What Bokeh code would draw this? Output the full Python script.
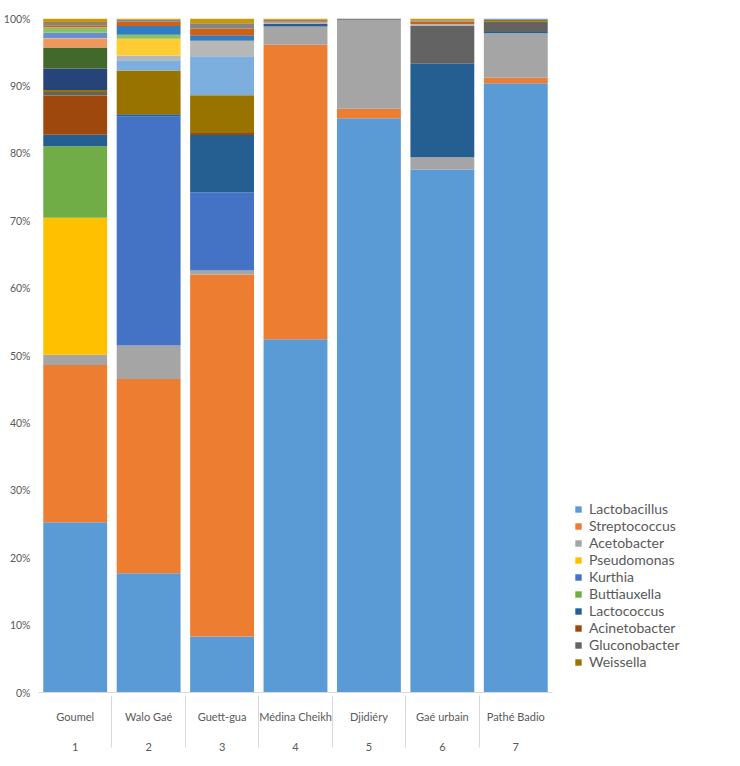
from bokeh.plotting import figure
from bokeh.models import (ColumnDataSource, FactorRange, FixedTicker, NumeralTickFormatter,
                          Legend, LegendItem)
from bokeh.embed import file_html
from bokeh.resources import INLINE

sites = ["Goumel", "Walo Gaé", "Guett-gua", "Médina Cheikh", "Djidiéry", "Gaé urbain", "Pathé Badio"]
site_numbers = ["1", "2", "3", "4", "5", "6", "7"]

# Relative abundance (%) per site
Lactobacillus = [25.2, 17.7, 8.3, 52.4, 85.2, 77.6, 90.4]
Streptococcus = [23.3, 28.8, 53.7, 43.7, 1.4, 0.0, 0.8]
Acetobacter = [1.5, 5.0, 0.6, 2.7, 13.2, 1.8, 6.6]
Pseudomonas = [20.3, 0, 0, 0, 0, 0, 0]
Kurthia = [0, 34.0, 11.6, 0, 0, 0, 0]
Buttiauxella = [10.6, 0, 0, 0, 0, 0, 0]
Lactococcus = [1.7, 0.3, 8.5, 0.4, 0, 13.9, 0.2]
Acinetobacter = [5.8, 0, 0.3, 0, 0, 0, 0]
Gluconobacter = [0.5, 0, 0, 0, 0.2, 5.6, 1.5]
Weissella = [0.3, 6.5, 5.6, 0, 0, 0, 0.3]
# minor genera (not shown in the legend)
other_11 = [3.2, 0, 0, 0, 0, 0, 0]
other_12 = [3.1, 0, 0, 0, 0, 0, 0]
other_13 = [0, 1.5, 5.8, 0, 0, 0, 0]
other_14 = [1.3, 0, 0, 0, 0, 0, 0]
other_15 = [0.1, 0.7, 2.3, 0.2, 0, 0.3, 0]
other_16 = [0, 2.5, 0, 0, 0, 0, 0]
other_17 = [0.8, 0, 0, 0, 0, 0, 0.2]
other_18 = [0.8, 0.6, 0, 0, 0, 0, 0]
other_19 = [0, 1.3, 0.8, 0, 0, 0, 0]
other_20 = [0.3, 0.6, 1.0, 0.2, 0, 0.35, 0]
other_21 = [0.5, 0.3, 0.8, 0.2, 0, 0.2, 0]
other_22 = [0.5, 0.2, 0.7, 0.2, 0, 0.25, 0]

legend_names = ["Lactobacillus", "Streptococcus", "Acetobacter", "Pseudomonas", "Kurthia",
                "Buttiauxella", "Lactococcus", "Acinetobacter", "Gluconobacter", "Weissella"]
series = [Lactobacillus, Streptococcus, Acetobacter, Pseudomonas, Kurthia, Buttiauxella,
          Lactococcus, Acinetobacter, Gluconobacter, Weissella,
          other_11, other_12, other_13, other_14, other_15, other_16, other_17, other_18,
          other_19, other_20, other_21, other_22]
names = legend_names + ["other_%d" % i for i in range(11, 23)]
colors = ["#5B9BD5", "#ED7D31", "#A5A5A5", "#FFC000", "#4472C4", "#70AD47", "#255E91",
          "#9E480E", "#636363", "#997300", "#264478", "#43682B", "#7CAFDD", "#F1975A",
          "#B7B7B7", "#FFCD33", "#698ED0", "#8CC168", "#327DC2", "#D26012", "#848484", "#CC9A00"]

factors = list(zip(site_numbers, sites))
totals = [sum(s[i] for s in series) for i in range(len(sites))]
data = {"x": factors}
for n, s in zip(names, series):
    data[n] = [v / t for v, t in zip(s, totals)]
source = ColumnDataSource(data)

FONT = "Lato"
p = figure(x_range=FactorRange(*factors, group_padding=0, factor_padding=0, range_padding=0),
           y_range=(0, 1), frame_width=514, frame_height=674,
           output_backend="svg", toolbar_location=None,
           min_border_top=18, min_border_left=20, min_border_bottom=58, min_border_right=20)

renderers = p.vbar_stack(names, x="x", width=0.87, source=source, color=colors, line_color=None)

p.xgrid.grid_line_color = None
p.ygrid.grid_line_color = None
p.outline_line_color = None

p.yaxis.ticker = FixedTicker(ticks=[i / 10 for i in range(11)])
p.yaxis.formatter = NumeralTickFormatter(format="0%")
p.yaxis.axis_line_color = None
p.yaxis.major_tick_line_color = None
p.yaxis.minor_tick_line_color = None
p.yaxis.major_tick_out = 0
p.yaxis.minor_tick_out = 0
p.yaxis.major_label_text_font = FONT
p.yaxis.major_label_text_font_size = "10.5px"
p.yaxis.major_label_text_color = "#595959"
p.yaxis.major_label_standoff = 8

p.xaxis.axis_line_color = "#D9D9D9"
p.xaxis.major_tick_line_color = None
p.xaxis.minor_tick_line_color = None
p.xaxis.major_tick_out = 0
p.xaxis.minor_tick_out = 0
p.xaxis.major_label_text_font = FONT
p.xaxis.major_label_text_font_size = "11px"
p.xaxis.major_label_text_color = "#595959"
p.xaxis.major_label_standoff = 17
p.xaxis.group_text_font = FONT
p.xaxis.group_text_font_size = "11px"
p.xaxis.group_text_color = "#595959"
p.xaxis.group_text_font_style = "normal"
p.xaxis.separator_line_color = "#D9D9D9"
p.xaxis.separator_line_width = 1

items = [LegendItem(label=n, renderers=[r]) for n, r in zip(legend_names, renderers[:10])]
legend = Legend(items=items, location="bottom_left", glyph_width=8, glyph_height=8,
                label_height=17, spacing=0, padding=0, margin=22,
                label_text_font=FONT, label_text_font_size="14px", label_text_color="#595959",
                label_standoff=7, border_line_color=None, background_fill_alpha=0)
p.add_layout(legend, "right")

open("out.html", "w").write(file_html(p, INLINE))
